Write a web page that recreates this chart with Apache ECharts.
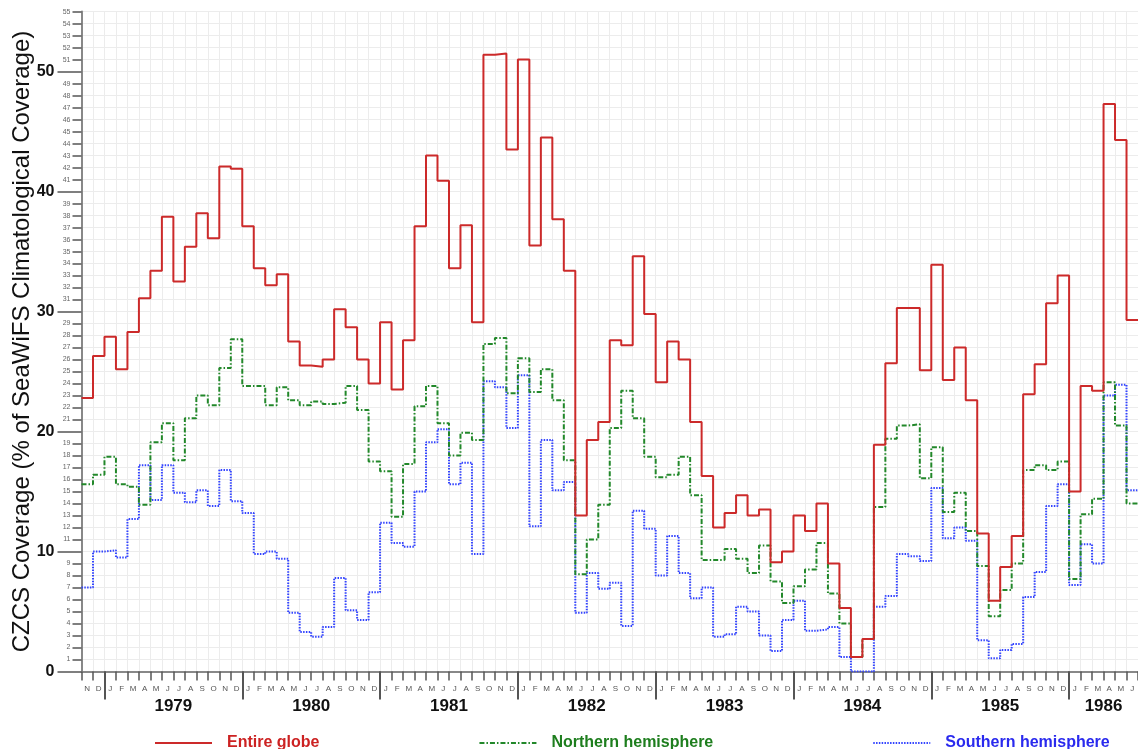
<!DOCTYPE html>
<html>
<head>
<meta charset="utf-8">
<script src="https://cdn.jsdelivr.net/npm/echarts@6/dist/echarts.min.js"></script>
<style>
html,body{margin:0;padding:0;background:#fff;}
#chart{width:1138px;height:749px;}
</style>
</head>
<body>
<div id="chart"></div>
<script>
// Month initials, Nov 1978 .. Jun 1986
const monthInitials = ['J','F','M','A','M','J','J','A','S','O','N','D'];
const monthLabels = ['N','D'];
for (let y = 0; y < 7; y++) monthInitials.forEach(m => monthLabels.push(m));
monthInitials.slice(0, 6).forEach(m => monthLabels.push(m));

const yearLabels = ['1979','1980','1981','1982','1983','1984','1985','1986'];
const yearStartIndex = [2, 14, 26, 38, 50, 62, 74, 86];
const yearCenterIndex = [8, 20, 32, 44, 56, 68, 80, 89];
const yMajorTicks = [0, 10, 20, 30, 40, 50];

const entireGlobe = [22.8, 26.3,
  27.9, 25.2, 28.3, 31.1, 33.4, 37.9, 32.5, 35.4, 38.2, 36.1, 42.1, 41.9,
  37.1, 33.6, 32.2, 33.1, 27.5, 25.5, 25.4, 26.0, 30.2, 28.7, 26.0, 24.0,
  29.1, 23.5, 27.6, 37.1, 43.0, 40.9, 33.6, 37.2, 29.1, 51.4, 51.5, 43.5,
  51.0, 35.5, 44.5, 37.7, 33.4, 13.0, 19.3, 20.8, 27.6, 27.2, 34.6, 29.8,
  24.1, 27.5, 26.0, 20.8, 16.3, 12.0, 13.2, 14.7, 13.0, 13.5, 9.1, 10.0,
  13.0, 11.7, 14.0, 9.0, 5.3, 1.2, 2.7, 18.9, 25.7, 30.3, 30.3, 25.1,
  33.9, 24.3, 27.0, 22.6, 11.5, 5.9, 8.7, 11.3, 23.1, 25.6, 30.7, 33.0,
  15.0, 23.8, 23.4, 47.3, 44.3, 29.3];

const northernHemisphere = [15.6, 16.4,
  17.9, 15.6, 15.4, 13.9, 19.1, 20.7, 17.6, 21.1, 23.0, 22.2, 25.3, 27.7,
  23.8, 23.8, 22.2, 23.7, 22.6, 22.2, 22.5, 22.3, 22.4, 23.8, 21.8, 17.5,
  16.7, 12.9, 17.3, 22.1, 23.8, 20.7, 18.0, 19.9, 19.3, 27.3, 27.8, 23.2,
  26.1, 23.3, 25.2, 22.6, 17.6, 8.1, 11.0, 13.9, 20.3, 23.4, 21.1, 17.9,
  16.2, 16.4, 17.9, 14.7, 9.3, 9.3, 10.2, 9.4, 8.2, 10.5, 7.5, 5.7,
  7.1, 8.5, 10.7, 6.5, 4.0, 1.2, 2.7, 13.7, 19.4, 20.5, 20.6, 16.1,
  18.7, 13.3, 14.9, 11.7, 8.8, 4.6, 6.8, 9.0, 16.8, 17.2, 16.8, 17.5,
  7.7, 13.1, 14.4, 24.1, 20.5, 14.0];

const southernHemisphere = [7.0, 10.0,
  10.1, 9.5, 12.7, 17.2, 14.3, 17.2, 14.9, 14.1, 15.1, 13.8, 16.8, 14.2,
  13.2, 9.8, 10.0, 9.4, 4.9, 3.3, 2.9, 3.7, 7.8, 5.1, 4.3, 6.6,
  12.4, 10.7, 10.4, 15.0, 19.1, 20.2, 15.6, 17.4, 9.8, 24.2, 23.7, 20.3,
  24.7, 12.1, 19.3, 15.1, 15.8, 4.9, 8.2, 6.9, 7.4, 3.8, 13.4, 11.9,
  8.0, 11.3, 8.2, 6.1, 7.0, 2.9, 3.1, 5.4, 5.0, 3.0, 1.7, 4.3,
  5.9, 3.4, 3.5, 3.7, 1.2, 0, 0, 5.4, 6.3, 9.8, 9.6, 9.2,
  15.3, 11.1, 12.0, 10.9, 2.6, 1.1, 1.8, 2.3, 6.2, 8.3, 13.8, 15.6,
  7.2, 10.6, 9.0, 23.0, 23.9, 15.1];

function toSteps(arr) {
  const pts = arr.map((v, i) => [i, v]);
  pts.push([arr.length, arr[arr.length - 1]]);
  return pts;
}

const FONT = 'Liberation Sans';
const N = monthLabels.length;
const chart = echarts.init(document.getElementById('chart'));

chart.setOption({
  backgroundColor: '#ffffff',
  animation: false,
  grid: { left: 81.5, right: 0, top: 11.6, bottom: 77.5, containLabel: false },
  xAxis: [
    {
      type: 'category', data: monthLabels, boundaryGap: true, position: 'bottom',
      axisLine: { show: true, lineStyle: { color: '#888', width: 2 } },
      axisTick: { show: true, length: 9, interval: 0, lineStyle: { color: '#555', width: 1.5 } },
      axisLabel: { interval: 0, fontSize: 8, color: '#555', margin: 13, fontFamily: FONT },
      splitLine: { show: true, interval: 0, lineStyle: { color: '#ececec', width: 1 } }
    },
    {
      type: 'value', min: 0, max: N, position: 'bottom',
      axisLine: { show: false },
      axisTick: { show: true, customValues: yearStartIndex, length: 28, lineStyle: { color: '#555', width: 2 } },
      axisLabel: {
        show: true, customValues: yearCenterIndex, margin: 26,
        fontSize: 17, fontWeight: 'bold', color: '#111', fontFamily: FONT,
        formatter: v => { const k = yearCenterIndex.indexOf(v); return k >= 0 ? yearLabels[k] : ''; }
      },
      splitLine: { show: false }
    }
  ],
  yAxis: [
    {
      type: 'value', min: 0, max: 55, interval: 1, position: 'left',
      name: 'CZCS Coverage (% of SeaWiFS Climatological Coverage)',
      nameLocation: 'middle', nameGap: 47.5, nameRotate: 90,
      nameTextStyle: { fontSize: 24, color: '#111', fontFamily: FONT },
      axisLine: { show: true, lineStyle: { color: '#888', width: 2 } },
      axisTick: { show: true, length: 9, lineStyle: { color: '#555', width: 1.5 } },
      axisLabel: {
        fontSize: 7, color: '#666', margin: 11, fontFamily: FONT,
        formatter: v => (v % 10 === 0 ? '' : String(v))
      },
      splitLine: { show: true, lineStyle: { color: '#ececec', width: 1 } }
    },
    {
      type: 'value', min: 0, max: 55, position: 'left',
      axisLine: { show: false },
      axisTick: { show: true, customValues: yMajorTicks, length: 24, lineStyle: { color: '#555', width: 1.5 } },
      axisLabel: {
        customValues: yMajorTicks, margin: 27, fontSize: 16, fontWeight: 'bold',
        color: '#111', fontFamily: FONT
      },
      splitLine: { show: false }
    }
  ],
  legend: {
    left: 149, top: 730, itemWidth: 57, itemHeight: 10, itemGap: 159,
    itemStyle: { opacity: 0 },
    textStyle: { fontSize: 16, fontWeight: 'bold', fontFamily: FONT, padding: [0, 0, 0, 10] },
    data: [
      { name: 'Entire globe', textStyle: { color: '#cc2222' } },
      { name: 'Northern hemisphere', textStyle: { color: '#1e7e1e' } },
      { name: 'Southern hemisphere', textStyle: { color: '#2a2aee' } }
    ]
  },
  series: [
    {
      name: 'Southern hemisphere', type: 'line', step: 'end', xAxisIndex: 1, yAxisIndex: 0,
      data: toSteps(southernHemisphere), symbol: 'none',
      lineStyle: { color: '#3344ff', width: 2, type: [1.5, 1.3] },
      itemStyle: { color: '#3344ff' }
    },
    {
      name: 'Northern hemisphere', type: 'line', step: 'end', xAxisIndex: 1, yAxisIndex: 0,
      data: toSteps(northernHemisphere), symbol: 'none',
      lineStyle: { color: '#22882a', width: 2, type: [5, 2, 1.5, 2] },
      itemStyle: { color: '#22882a' }
    },
    {
      name: 'Entire globe', type: 'line', step: 'end', xAxisIndex: 1, yAxisIndex: 0,
      data: toSteps(entireGlobe), symbol: 'none',
      lineStyle: { color: '#cc2a2a', width: 2, type: 'solid' },
      itemStyle: { color: '#cc2a2a' }
    }
  ]
});
</script>
</body>
</html>
